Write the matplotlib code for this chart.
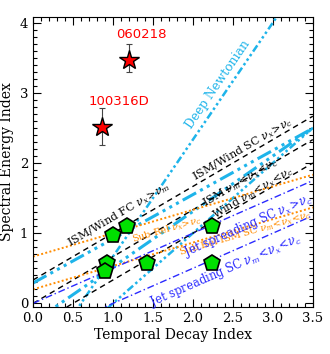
import numpy as np
import matplotlib
matplotlib.use("Agg")
import matplotlib.pyplot as plt
from matplotlib.ticker import MultipleLocator

plt.rcParams['font.family'] = ['DejaVu Serif']
plt.rcParams['mathtext.fontset'] = 'dejavuserif'

# GRBs (red stars)
grb_names = ["060218", "100316D"]
grb_alpha = [1.20, 0.86]
grb_beta = [3.47, 2.51]
grb_err_lo = [0.18, 0.25]
grb_err_hi = [0.23, 0.28]
grb_label_x = [1.36, 1.07]
grb_label_y = [3.83, 2.88]

# other bursts (green pentagons)
other_alpha = [1.00, 1.18, 0.92, 0.90, 1.42, 2.24, 2.24]
other_beta = [0.97, 1.10, 0.58, 0.46, 0.57, 1.10, 0.57]

# closure relations: beta = slope * alpha + intercept
black_slope = [2 / 3, 2 / 3, 2 / 3]
black_icpt = [1 / 3, 0.0, -1 / 3]
orange_slope = [1 / 3, 1 / 3]
orange_icpt = [2 / 3, 0.2]
blue_slope = [0.5, 0.5]
blue_icpt = [0.0, -0.5]
cyan_thick_slope = [0.63, 0.79]
cyan_thick_icpt = [0.29, -0.27]
cyan_dot_slope = [1 / 0.6, 1.0]
cyan_dot_icpt = [-1.0, -1.0]

# line labels: text, alpha, beta, slope, colour, size
labels = [
    (r"ISM/Wind SC $\nu_x\!>\!\nu_c$", 2.63, 2.19, 2 / 3, "black", 8),
    (r"ISM/Wind FC $\nu_x\!>\!\nu_m$", 1.07, 1.27, 2 / 3, "black", 8),
    (r"ISM $\nu_m\!<\!\nu_x\!<\!\nu_c$", 2.60, 1.72, 2 / 3, "black", 8),
    (r"Wind $\nu_m\!<\!\nu_x\!<\!\nu_c$", 2.75, 1.58, 2 / 3, "black", 8),
    (r"Sub Rel $\nu_x\!>\!\nu_c$", 1.67, 1.05, 1 / 3, "darkorange", 7),
    (r"Sub Rel ISM SC $\nu_m\!<\!\nu_x\!<\!\nu_c$", 2.66, 0.99, 1 / 3, "darkorange", 7.2),
    (r"Jet spreading SC $\nu_x\!>\!\nu_c$", 2.69, 1.11, 0.5, "#2a2aff", 8.3),
    (r"Jet spreading SC $\nu_m\!<\!\nu_x\!<\!\nu_c$", 2.41, 0.47, 0.5, "#2a2aff", 8.3),
    ("Deep Newtonian", 2.31, 3.12, 1 / 0.6, "#1eb4ea", 8.8),
]

fig = plt.figure(figsize=(3.30, 3.54), dpi=100)
ax = fig.add_axes([0.100, 0.133, 0.848, 0.819])
ax.set_xlim(0, 3.5)
ax.set_ylim(-0.05, 4.08)

a = np.array([0.0, 3.5])
for s, c in zip(cyan_thick_slope, cyan_thick_icpt):
    ax.plot(a, s * a + c, color="#1eb4ea", lw=2.2,
            dashes=(5, 1.5, 1, 1.5, 1, 1.5, 1, 1.5))
for s, c in zip(cyan_dot_slope, cyan_dot_icpt):
    ax.plot(a, s * a + c, color="#1eb4ea", lw=1.8,
            dashes=(1, 1.2, 1, 1.2, 1, 1.2, 3, 1.2))
for s, c in zip(black_slope, black_icpt):
    ax.plot(a, s * a + c, color="black", lw=1.0, dashes=(4, 3))
for s, c in zip(orange_slope, orange_icpt):
    ax.plot(a, s * a + c, color="darkorange", lw=1.4, dashes=(1, 1.2))
for s, c in zip(blue_slope, blue_icpt):
    ax.plot(a, s * a + c, color="#2a2aff", lw=1.0, dashes=(5, 2, 1, 2))

ax.errorbar(grb_alpha, grb_beta, yerr=[grb_err_lo, grb_err_hi], fmt="none",
            ecolor="#444444", elinewidth=0.8, capsize=2, capthick=0.8, zorder=4)
ax.plot(grb_alpha, grb_beta, ls="none", marker="*", ms=15, mfc="red",
        mec="black", mew=1.0, zorder=5)
for n, x, y in zip(grb_names, grb_label_x, grb_label_y):
    ax.text(x, y, n, color="red", fontsize=9.5, family="DejaVu Sans",
            ha="center", va="center")

ax.plot(other_alpha, other_beta, ls="none", marker="p", ms=12, mfc="#00e000",
        mec="black", mew=1.2, zorder=5)

# angle of each label along its line in screen space
p0 = ax.transData.transform((0, 0))
for txt, x, y, s, col, fs in labels:
    p1 = ax.transData.transform((1, s))
    ang = np.degrees(np.arctan2(p1[1] - p0[1], p1[0] - p0[0]))
    ax.text(x, y, txt, color=col, fontsize=fs, rotation=ang,
            ha="center", va="center", rotation_mode="anchor")

ax.xaxis.set_major_locator(MultipleLocator(0.5))
ax.xaxis.set_minor_locator(MultipleLocator(0.1))
ax.yaxis.set_major_locator(MultipleLocator(1))
ax.yaxis.set_minor_locator(MultipleLocator(0.1))
ax.xaxis.set_major_formatter(plt.FuncFormatter(lambda v, p: f"{v:.1f}"))
ax.tick_params(which="both", direction="in", top=True, right=True, labelsize=9.5)
ax.tick_params(which="major", length=6, width=0.8)
ax.tick_params(which="minor", length=3, width=0.8)
ax.set_xlabel("Temporal Decay Index", fontsize=10, labelpad=2)
ax.set_ylabel("Spectral Energy Index", fontsize=10, labelpad=4)

fig.savefig("out.png", dpi=100)
